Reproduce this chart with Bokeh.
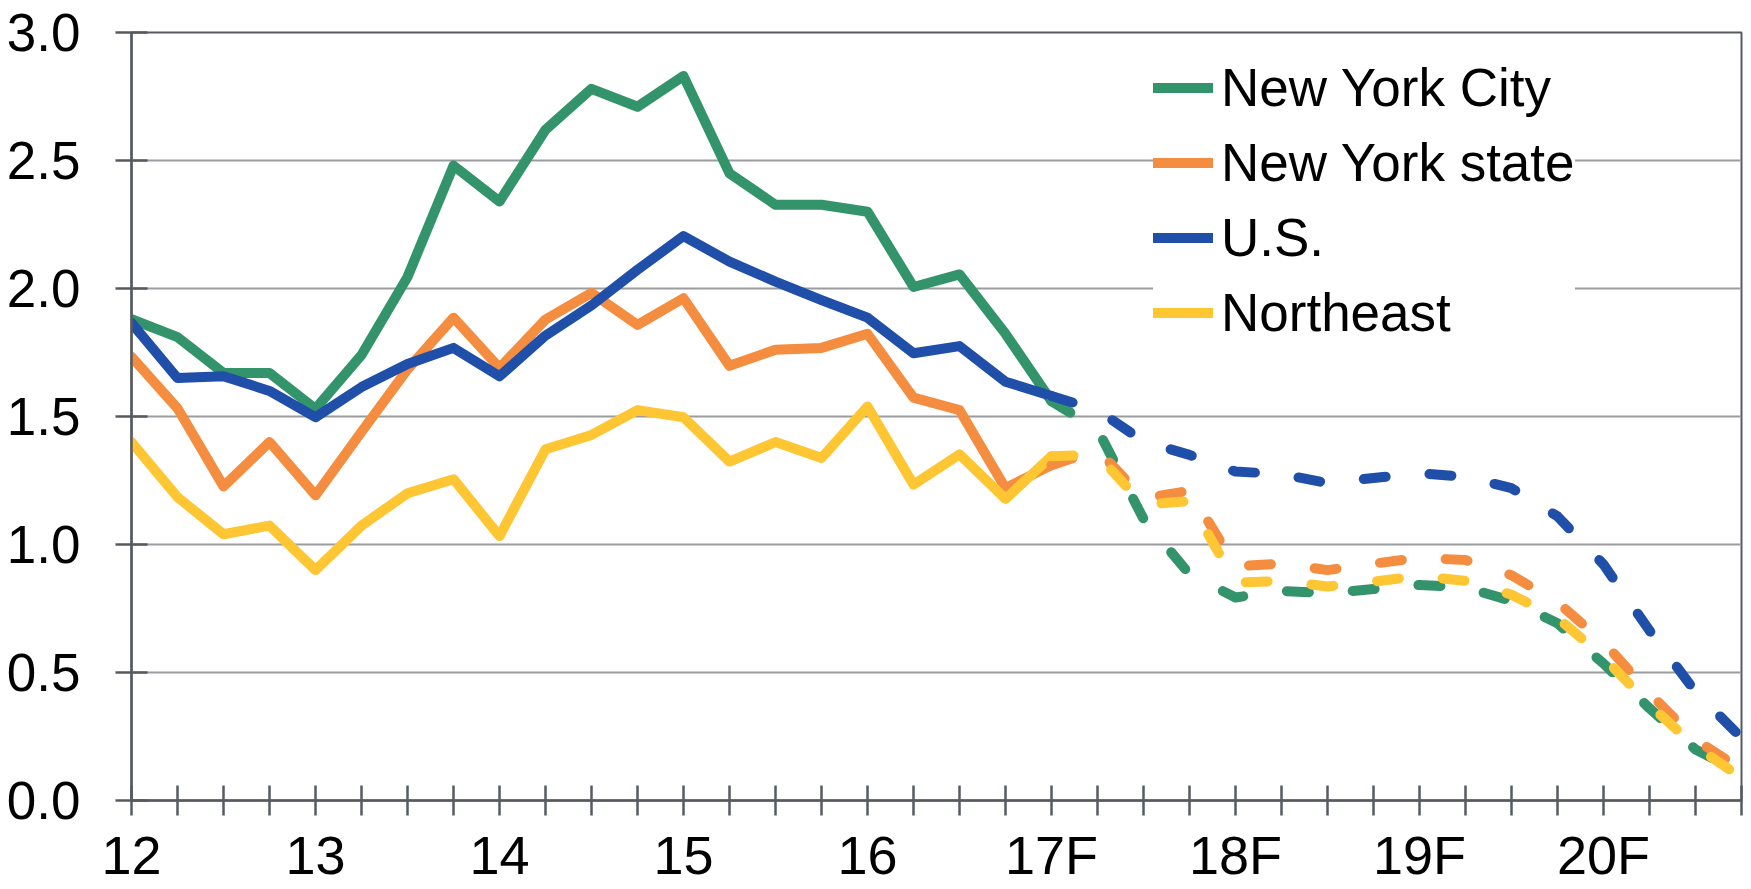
from bokeh.plotting import figure
from bokeh.models import Range1d, FixedTicker, Legend, LegendItem, NumeralTickFormatter
from bokeh.embed import file_html
from bokeh.resources import INLINE

# ---- data -------------------------------------------------------------
quarters = list(range(36))          # 2012Q1 .. 2020Q4
tick_labels = {0: "12", 4: "13", 8: "14", 12: "15", 16: "16",
               20: "17F", 24: "18F", 28: "19F", 32: "20F"}

actual_x = quarters[:21]
forecast_x = quarters[20:]

nyc_actual = [1.88, 1.81, 1.67, 1.67, 1.53, 1.74, 2.045, 2.48, 2.34, 2.62, 2.78,
              2.71, 2.83, 2.45, 2.327, 2.327, 2.30, 2.006, 2.055, 1.823, 1.56]
state_actual = [1.733, 1.532, 1.227, 1.40, 1.192, 1.44, 1.684, 1.886, 1.69, 1.879, 1.983,
                1.858, 1.962, 1.698, 1.761, 1.768, 1.823, 1.574, 1.525, 1.22, 1.31]
us_actual = [1.865, 1.65, 1.657, 1.60, 1.497, 1.615, 1.705, 1.768, 1.657, 1.816, 1.934,
             2.073, 2.205, 2.105, 2.027, 1.955, 1.886, 1.747, 1.775, 1.636, 1.58]
ne_actual = [1.40, 1.185, 1.04, 1.074, 0.90, 1.074, 1.20, 1.255, 1.033, 1.372, 1.428,
             1.525, 1.497, 1.324, 1.40, 1.338, 1.539, 1.234, 1.352, 1.178, 1.345]

nyc_forecast = [1.56, 1.45, 1.10, 0.884, 0.793, 0.819, 0.809, 0.826, 0.842, 0.832,
                0.78, 0.692, 0.535, 0.36, 0.199, 0.109]
state_forecast = [1.31, 1.37, 1.18, 1.21, 0.915, 0.925, 0.90, 0.925, 0.948, 0.939,
                  0.88, 0.774, 0.619, 0.419, 0.238, 0.121]
us_forecast = [1.58, 1.525, 1.403, 1.35, 1.285, 1.275, 1.24, 1.26, 1.278, 1.265,
               1.22, 1.11, 0.922, 0.664, 0.425, 0.245]
ne_forecast = [1.345, 1.35, 1.155, 1.17, 0.851, 0.858, 0.836, 0.855, 0.877, 0.858,
               0.804, 0.713, 0.56, 0.373, 0.212, 0.089]

series_names = ["New York City", "New York state", "U.S.", "Northeast"]
series_colors = ["#33936A", "#F48D3F", "#1F4FA8", "#FEC633"]
actual_values = [nyc_actual, state_actual, us_actual, ne_actual]
forecast_values = [nyc_forecast, state_forecast, us_forecast, ne_forecast]
y_ticks = [0.0, 0.5, 1.0, 1.5, 2.0, 2.5, 3.0]

# ---- figure -----------------------------------------------------------
FONT = "Liberation Sans"
AXIS_COLOR = "#575b60"

p = figure(width=1751, height=889, x_range=Range1d(0, 35), y_range=Range1d(0, 3),
           output_backend="svg", toolbar_location=None,
           min_border_left=131, min_border_right=10, min_border_top=32, min_border_bottom=89)

p.background_fill_color = "white"
p.border_fill_color = "white"
p.outline_line_color = AXIS_COLOR
p.outline_line_width = 2

p.xgrid.visible = False
p.ygrid.ticker = FixedTicker(ticks=y_ticks)
p.ygrid.grid_line_color = "#9a9ca0"
p.ygrid.grid_line_width = 2

yax = p.yaxis[0]
yax.ticker = FixedTicker(ticks=y_ticks)
yax.formatter = NumeralTickFormatter(format="0.0")
yax.major_tick_in = 16
yax.major_tick_out = 16
yax.minor_tick_line_color = None
yax.axis_line_color = AXIS_COLOR
yax.axis_line_width = 2.5
yax.major_tick_line_color = AXIS_COLOR
yax.major_tick_line_width = 2.5
yax.major_label_text_font = FONT
yax.major_label_text_font_size = "53px"
yax.major_label_text_color = "black"
yax.major_label_standoff = 35

xax = p.xaxis[0]
xax.ticker = FixedTicker(ticks=quarters)
xax.major_label_overrides = {q: tick_labels.get(q, "") for q in quarters}
xax.major_tick_in = 15
xax.major_tick_out = 15
xax.minor_tick_line_color = None
xax.axis_line_color = AXIS_COLOR
xax.axis_line_width = 2.5
xax.major_tick_line_color = AXIS_COLOR
xax.major_tick_line_width = 2.5
xax.major_label_text_font = FONT
xax.major_label_text_font_size = "54px"
xax.major_label_text_color = "black"
xax.major_label_standoff = 9

LW = 10
solid_renderers = []
for vals, col in zip(actual_values, series_colors):
    r = p.line(actual_x, vals, line_color=col, line_width=LW,
               line_cap="round", line_join="round")
    solid_renderers.append(r)
for vals, col in zip(forecast_values, series_colors):
    p.line(forecast_x, vals, line_color=col, line_width=LW,
           line_cap="round", line_join="round", line_dash="22 44")

legend = Legend(items=[LegendItem(label=n, renderers=[r])
                       for n, r in zip(series_names, solid_renderers)],
                location=(1022, 450))
legend.glyph_width = 60
legend.glyph_height = 75
legend.label_height = 75
legend.spacing = 0
legend.padding = 15
legend.margin = 0
legend.label_standoff = 8
legend.border_line_color = None
legend.background_fill_color = "white"
legend.background_fill_alpha = 1.0
legend.label_text_font = FONT
legend.label_text_font_size = "53px"
legend.label_text_color = "black"
p.add_layout(legend)

open("out.html", "w").write(file_html(p, INLINE))
